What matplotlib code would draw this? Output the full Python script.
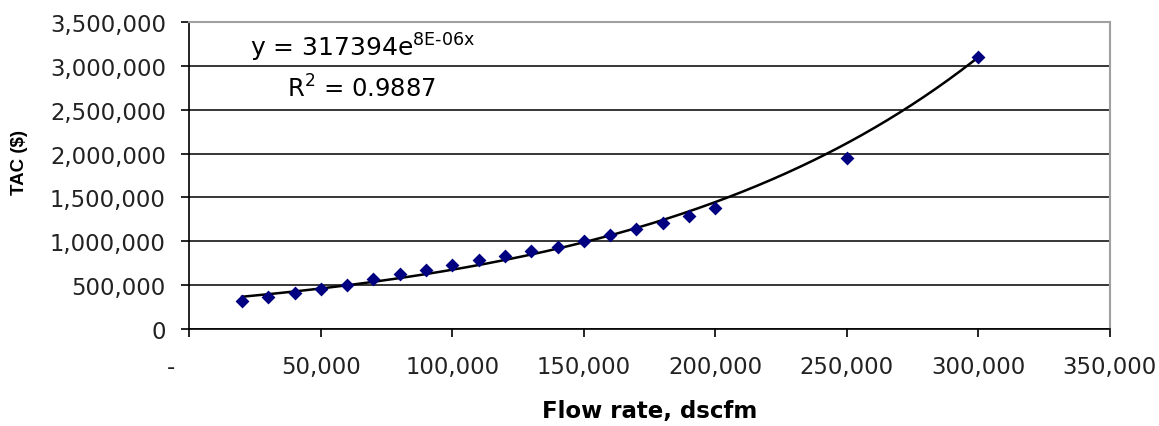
import numpy as np
import matplotlib.pyplot as plt
from matplotlib.ticker import FuncFormatter

# flow rate (dscfm) and total annual cost ($)
flow = [20000, 30000, 40000, 50000, 60000, 70000, 80000, 90000, 100000,
        110000, 120000, 130000, 140000, 150000, 160000, 170000, 180000,
        190000, 200000, 250000, 300000]
tac = [318000, 364000, 406000, 451000, 497000, 573000, 630000, 670000, 735000,
       784000, 830000, 894000, 936000, 1000000, 1076000, 1141000, 1210000,
       1286000, 1378000, 1952000, 3101000]

eq_text = r"y = 317394e$^{\mathregular{8E\text{-}06x}}$"
r2_text = r"R$^{\mathregular{2}}$ = 0.9887"

plt.rcParams['font.family'] = ['DejaVu Sans']

fig = plt.figure(figsize=(11.59, 4.27), dpi=100)
ax = fig.add_axes([0.1635, 0.2272, 0.7938, 0.719])

# exponential trendline, fitted like Excel does (linear fit of ln y)
b, ln_a = np.polyfit(flow, np.log(tac), 1)
xs = np.linspace(min(flow), max(flow), 300)
ax.plot(xs, np.exp(ln_a) * np.exp(b * xs), color='black', lw=1.8, zorder=3)

ax.scatter(flow, tac, marker='D', s=50, color='#000080', zorder=4, linewidths=0)

ax.set_xlim(0, 350000)
ax.set_ylim(0, 3500000)
ax.set_xticks(np.arange(0, 350001, 50000))
ax.set_yticks(np.arange(0, 3500001, 500000))
ax.xaxis.set_major_formatter(FuncFormatter(lambda v, p: '-     ' if v == 0 else f"{int(v):,}"))
ax.yaxis.set_major_formatter(FuncFormatter(lambda v, p: f"{int(v):,}"))
ax.grid(axis='y', color='black', lw=1.1)
ax.set_axisbelow(True)

for s in ['top', 'right']:
    ax.spines[s].set_color('#a0a0a0')
    ax.spines[s].set_linewidth(1.5)
for s in ['left', 'bottom']:
    ax.spines[s].set_color('black')
    ax.spines[s].set_linewidth(1.2)

ax.tick_params(axis='both', direction='out', length=6, width=1.2, labelsize=16.4,
               labelcolor='#222222')
ax.tick_params(axis='x', pad=13)
ax.tick_params(axis='y', pad=11)

ax.set_xlabel("Flow rate, dscfm", fontsize=16.5, fontweight='bold', labelpad=14.5)
ax.set_ylabel("TAC ($)", fontsize=13.5, fontweight='bold', family='Liberation Sans')
ax.yaxis.set_label_coords(-0.175, 0.547)

ax.text(0.0658, 0.889, eq_text, transform=ax.transAxes, fontsize=18, va='baseline', ha='left')
ax.text(0.106, 0.756, r2_text, transform=ax.transAxes, fontsize=17.5, va='baseline', ha='left')

fig.savefig('out.png', dpi=100)
